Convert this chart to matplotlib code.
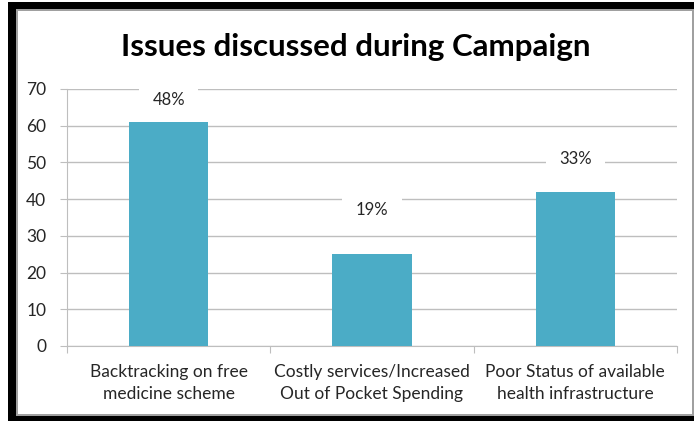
import matplotlib.pyplot as plt
from matplotlib.patches import Rectangle

categories = ["Backtracking on free\nmedicine scheme",
              "Costly services/Increased\nOut of Pocket Spending",
              "Poor Status of available\nhealth infrastructure"]
values = [61, 25, 42]
labels = ["48%", "19%", "33%"]
label_offsets = [6, 12, 9]

W, H = 694, 421
fig = plt.figure(figsize=(W / 100, H / 100), dpi=100)
plt.rcParams['font.family'] = ['Lato', 'DejaVu Sans']


def px_rect(x0, y0, x1, y1, color):
    # rectangle given in pixel coords, origin top-left
    fig.patches.append(Rectangle((x0 / W, 1 - y1 / H), (x1 - x0) / W, (y1 - y0) / H,
                                 transform=fig.transFigure, color=color, lw=0, zorder=0))


# outer frame
px_rect(8, 2, 694, 9, "black")
px_rect(8, 2, 16, 421, "black")
px_rect(8, 416, 694, 421, "black")
px_rect(16, 9, 694, 11, "#a0a0a0")
px_rect(16, 9, 18, 416, "#a0a0a0")
px_rect(16, 414, 694, 416, "#a0a0a0")
px_rect(692, 9, 694, 416, "#a0a0a0")

ax = fig.add_axes([67 / W, 1 - 346 / H, (677 - 67) / W, (346 - 89) / H])
x = range(len(values))
ax.bar(x, values, width=0.39, color="#4BACC6", zorder=3)

for i, (v, lab) in enumerate(zip(values, labels)):
    ax.text(i, v + label_offsets[i], lab, ha="center", va="center", fontsize=12,
            color="#262626", zorder=4,
            bbox=dict(facecolor="white", edgecolor="none", pad=0, boxstyle="square,pad=0.8"))

ax.set_xlim(-0.5, 2.5)
ax.set_ylim(0, 70)
ax.set_yticks(range(0, 71, 10))
ax.yaxis.grid(True, color="#BEBEBE", lw=1)
ax.set_axisbelow(True)
ax.set_xticks([-0.5, 0.5, 1.5, 2.5])
ax.set_xticklabels([])
ax.set_xticks(list(x), minor=True)
ax.set_xticklabels(categories, minor=True, fontsize=12.5, color="#262626", linespacing=1.45)
ax.tick_params(axis="x", which="minor", length=0, pad=13)
ax.tick_params(axis="x", which="major", length=5, color="#BEBEBE")
ax.tick_params(axis="y", length=5, color="#BEBEBE", labelsize=12.5, labelcolor="#262626", pad=10)
for s in ["top", "right"]:
    ax.spines[s].set_visible(False)
for s in ["left", "bottom"]:
    ax.spines[s].set_color("#BEBEBE")

fig.text(356 / W, 1 - 47 / H, "Issues discussed during Campaign", ha="center", va="center",
         fontsize=22.5, fontweight="bold", color="black")

fig.savefig("out.png", dpi=100)
